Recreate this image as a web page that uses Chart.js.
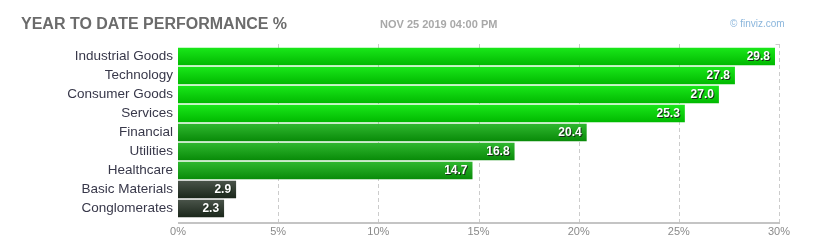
<!DOCTYPE html>
<html>
<head>
<meta charset="utf-8">
<script src="https://cdn.jsdelivr.net/npm/chart.js@4.4.0/dist/chart.umd.min.js"></script>
<style>
  html, body { margin: 0; padding: 0; background: #fff; }
  #wrap { position: relative; width: 834px; height: 249px; }
  #title { position: absolute; left: 21px; top: 15px; font: bold 16px Arial, "Liberation Sans", sans-serif; color: #6b6b6b; }
  #date { position: absolute; left: 380px; top: 18px; font: bold 11px Arial, "Liberation Sans", sans-serif; color: #a8a8a8; }
  #brand { position: absolute; left: 730px; top: 18px; font: 10px Arial, "Liberation Sans", sans-serif; color: #8bb6dc; }
  canvas { position: absolute; left: 0; top: 0; }
</style>
</head>
<body>
<div id="wrap">
  <canvas id="perfChart" width="834" height="249"></canvas>
  <div id="title">YEAR TO DATE PERFORMANCE %</div>
  <div id="date">NOV 25 2019 04:00 PM</div>
  <div id="brand">&copy; finviz.com</div>
</div>
<script>
const sectors = ['Industrial Goods', 'Technology', 'Consumer Goods', 'Services', 'Financial',
                 'Utilities', 'Healthcare', 'Basic Materials', 'Conglomerates'];
const ytdPerf = [29.8, 27.8, 27.0, 25.3, 20.4, 16.8, 14.7, 2.9, 2.3];
const xTicks = [0, 5, 10, 15, 20, 25, 30];

function barShades(v) {
    if (v >= 25) return ['#1ae81a', '#00b800'];
    if (v >= 10) return ['#30b830', '#088a08'];
    return ['#4a544a', '#1a261a'];
}

function barFill(context) {
    const chart = context.chart;
    const v = ytdPerf[context.dataIndex];
    const c = barShades(v);
    if (!chart.chartArea || !chart.scales.y) return c[1];
    const yc = chart.scales.y.getPixelForValue(context.dataIndex);
    const g = chart.ctx.createLinearGradient(0, yc - 9, 0, yc + 9);
    g.addColorStop(0, c[0]);
    g.addColorStop(1, c[1]);
    return g;
}

const gridPlugin = {
    id: 'gridPlugin',
    beforeDatasetsDraw(chart) {
        const ctx = chart.ctx;
        const x = chart.scales.x;
        const area = chart.chartArea;
        ctx.save();
        ctx.strokeStyle = '#cccccc';
        ctx.lineWidth = 1;
        ctx.setLineDash([4, 3]);
        xTicks.forEach(t => {
            if (t === 0) return;
            const px = Math.round(x.getPixelForValue(t)) + 0.5;
            ctx.beginPath();
            ctx.moveTo(px, area.top - 3);
            ctx.lineTo(px, area.bottom + 5);
            ctx.stroke();
        });
        ctx.setLineDash([]);
        // little corner at the top of the last gridline
        const xr = Math.round(x.getPixelForValue(30)) + 0.5;
        ctx.beginPath();
        ctx.moveTo(xr - 4, area.top - 2.5);
        ctx.lineTo(xr, area.top - 2.5);
        ctx.stroke();
        // axis line
        ctx.strokeStyle = '#c4c4c4';
        ctx.lineWidth = 2;
        ctx.beginPath();
        ctx.moveTo(x.getPixelForValue(0), area.bottom + 5);
        ctx.lineTo(x.getPixelForValue(30) + 1, area.bottom + 5);
        ctx.stroke();
        ctx.restore();
    },
    afterDatasetsDraw(chart) {
        const ctx = chart.ctx;
        const meta = chart.getDatasetMeta(0);
        ctx.save();
        ctx.font = 'bold 12px Arial, "Liberation Sans", sans-serif';
        ctx.textAlign = 'right';
        ctx.textBaseline = 'middle';
        meta.data.forEach((bar, i) => {
            const txt = ytdPerf[i].toFixed(1);
            ctx.fillStyle = '#1a2a1a';
            ctx.fillText(txt, bar.x - 4, bar.y + 1.5);
            ctx.fillStyle = '#ffffff';
            ctx.fillText(txt, bar.x - 5, bar.y + 0.5);
        });
        ctx.restore();
    }
};

const ctx = document.getElementById('perfChart').getContext('2d');
let perfChart = new Chart(ctx, {
    type: 'bar',
    data: {
        labels: sectors,
        datasets: [{
            data: ytdPerf,
            backgroundColor: barFill,
            borderWidth: 0,
            barPercentage: 0.92,
            categoryPercentage: 1
        }]
    },
    options: {
        indexAxis: 'y',
        responsive: false,
        animation: false,
        layout: { padding: { top: 47, right: 55, left: 0, bottom: 0 } },
        plugins: {
            legend: { display: false },
            tooltip: { enabled: false }
        },
        scales: {
            x: {
                min: 0,
                max: 30,
                afterFit: s => { s.height = 31; },
                afterBuildTicks: s => { s.ticks = xTicks.map(v => ({ value: v })); },
                grid: { display: false, drawTicks: false },
                border: { display: false },
                ticks: {
                    padding: 7,
                    color: '#8a8a8a',
                    font: { family: 'Arial, "Liberation Sans", sans-serif', size: 11 },
                    callback: v => v + '%'
                }
            },
            y: {
                afterFit: s => { s.width = 178; },
                grid: { display: false, drawTicks: false },
                border: { display: false },
                ticks: {
                    autoSkip: false,
                    padding: 5,
                    color: '#38384a',
                    font: { family: 'Arial, "Liberation Sans", sans-serif', size: 13.5 }
                }
            }
        }
    },
    plugins: [gridPlugin]
});
</script>
</body>
</html>
